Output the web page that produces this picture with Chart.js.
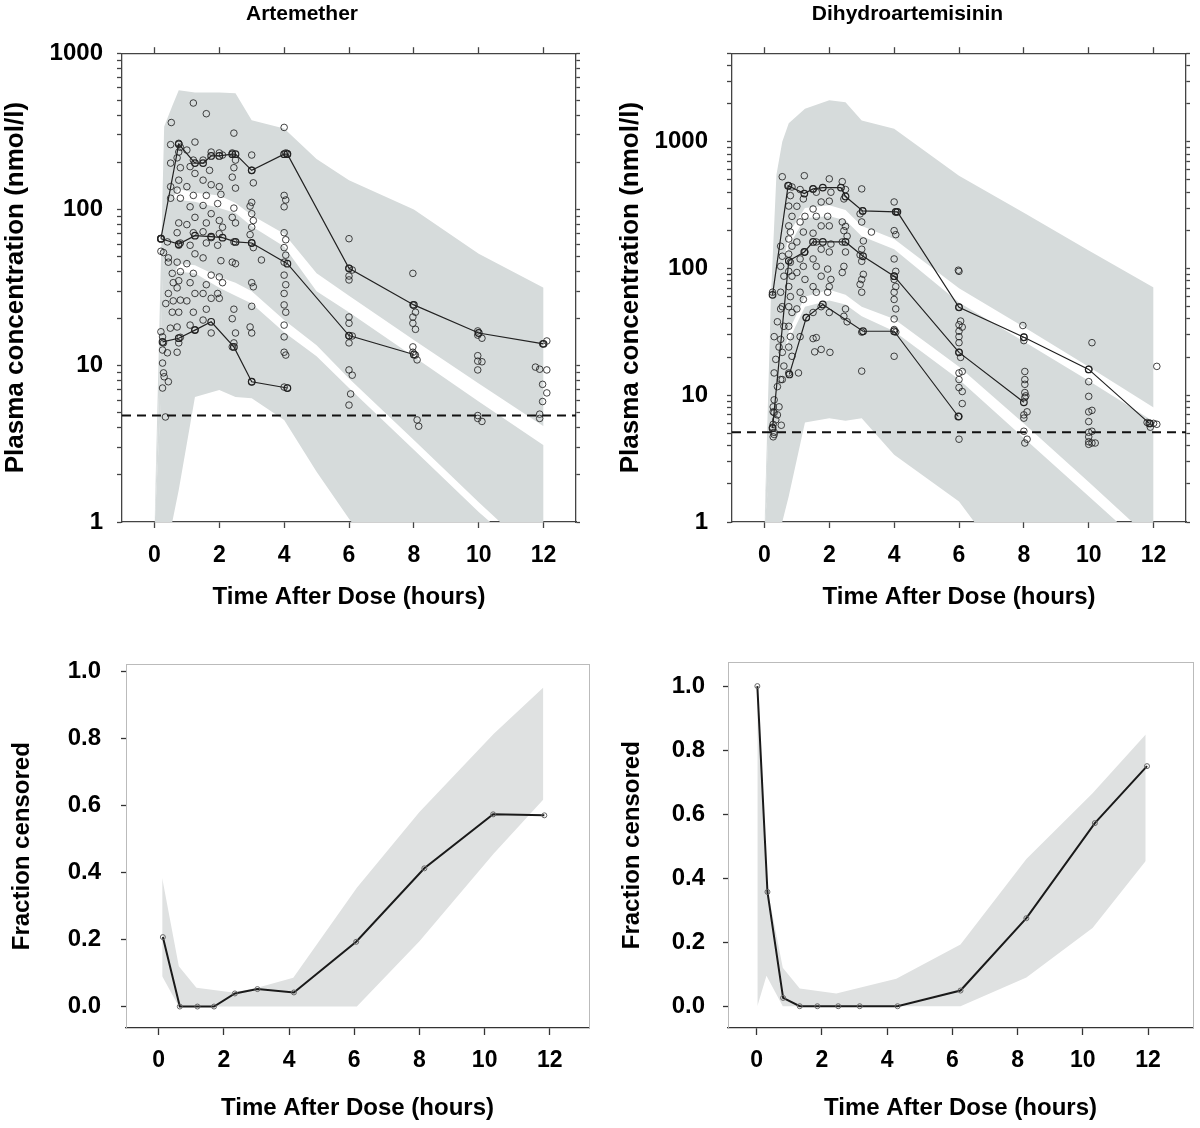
<!DOCTYPE html>
<html>
<head>
<meta charset="utf-8">
<script src="https://cdn.jsdelivr.net/npm/chart.js@4.4.1/dist/chart.umd.min.js"></script>
<style>
  body { margin: 0; background: #fff; width: 1200px; height: 1128px; position: relative; overflow: hidden; }
  canvas { position: absolute; }
</style>
</head>
<body>
<canvas id="artConc" width="604" height="630" style="left:0px;top:0px"></canvas>
<canvas id="dhaConc" width="585" height="630" style="left:615px;top:0px"></canvas>
<canvas id="artCens" width="600" height="498" style="left:0px;top:630px"></canvas>
<canvas id="dhaCens" width="585" height="498" style="left:615px;top:630px"></canvas>
<script>
// ---- tick labels ----
var timeTicks = [0, 2, 4, 6, 8, 10, 12];
var logTickLabels = [1, 10, 100, 1000];
var fracTicks = [0, 0.2, 0.4, 0.6, 0.8, 1.0];

// ---- Artemether: observed concentrations [time, nmol/l] ----
var tlObs = [
  [0.52,360],[0.5,260],[0.5,198],[0.5,140],[0.5,118],[0.21,65],[0.28,53],[0.43,49],[0.43,46],[0.55,39],
  [0.58,34],[0.43,29],[0.58,26],[0.55,22],[0.49,17.4],[0.25,15.3],[0.28,14],[0.4,12.1],[0.25,10.4],[0.28,9],
  [0.43,7.9],[0.25,7.2],[0.34,4.7],[0.2,54],[0.2,16.5],[0.25,12.6],[0.3,8.5],[0.35,25],[0.4,62],
  [0.75,265],[0.8,250],[0.75,233],[0.7,214],[0.8,185],[0.75,154],[0.7,133],[0.8,118],[0.75,82],[0.7,71],
  [0.8,61],[0.75,59],[0.7,46],[0.8,40],[0.75,35],[0.7,31.5],[0.8,26.3],[0.75,22],[0.7,17.7],[0.8,15.2],[0.75,14],[0.7,12.2],
  [1.2,480],[1.25,270],[1.0,240],[1.2,207],[1.1,188],[1.25,170],[1.0,140],[1.2,123],[1.1,104],[1.25,89],
  [1.0,80],[1.2,71],[1.1,59],[1.25,52],[1.0,45],[1.2,39],[1.1,34],[1.25,29],[1.0,26],[1.2,22],[1.1,18.2],[1.25,17],
  [1.6,410],[1.75,233],[1.5,207],[1.7,178],[1.5,154],[1.75,144],[1.6,123],[1.5,106],[1.75,94],[1.6,82],
  [1.5,72],[1.75,66],[1.6,61],[1.5,49],[1.75,38],[1.6,33],[1.5,29],[1.75,27],[1.6,23],[1.5,19.6],[1.75,16.2],
  [2.0,230],[2.1,223],[2.0,140],[2.05,125],[1.95,109],[2.0,85],[2.1,77],[2.0,70],[1.95,59],[2.05,47],
  [2.0,37],[2.1,34],[1.95,29],[2.0,27],
  [2.45,308],[2.4,230],[2.5,207],[2.45,185],[2.4,161],[2.5,137],[2.45,102],[2.4,89],[2.5,82],[2.45,62],
  [2.4,46],[2.5,45],[2.45,23],[2.4,20],[2.5,16.2],[2.45,14],[2.4,13.2],
  [3.0,223],[3.0,178],[3.05,148],[3.0,111],[2.95,105],[3.0,94],[3.05,85],[3.0,77],[2.95,69],[3.0,61],
  [3.05,57],[3.0,34],[3.05,32],[3.0,24],[2.95,17.7],[3.0,16.2],[3.0,7.9],[3.3,47.5],
  [4.0,335],[4.05,230],[4.1,228],[4.0,123],[4.05,115],[4.0,104],[4.0,71],[4.05,64],[4.0,57],[4.05,51],
  [4.0,46],[4.0,38],[4.05,33],[4.0,29],[4.0,24.5],[4.05,22],[4.0,18.2],[4.0,15.3],[4.0,12.2],[4.05,11.7],[4.0,7.3],[4.1,7.2],
  [6.0,65],[6.0,42],[6.1,41],[6.0,37.5],[6.0,35.4],[6.0,20.5],[6.0,18.7],[6.0,15.5],[6.1,15.5],[6.0,14],
  [6.0,9.4],[6.1,8.7],[6.05,6.6],[6.0,5.6],
  [7.97,39],[7.97,24.5],[8.05,22],[7.97,20.5],[7.97,18.7],[8.05,17.1],[7.97,13.2],[7.97,12.2],[8.05,11.7],[8.1,10.9],[8.1,4.5],[8.15,4.1],
  [9.97,16.7],[9.97,15.7],[10.1,15],[9.97,11.6],[9.97,10.7],[10.1,10.6],[9.97,9.4],[9.97,4.8],[9.97,4.6],[10.1,4.4],
  [11.97,13.8],[12.1,14.4],[11.75,9.8],[11.88,9.5],[12.1,9.4],[11.97,7.6],[12.1,6.7],[11.97,5.9],[11.88,4.9],[11.88,4.6]
];
// observed 95th / 50th / 5th percentiles
var tlP95Time = [0.2, 0.75, 1.25, 1.5, 1.75, 2.0, 2.4, 2.5, 3.0, 4.0, 4.1, 6.0, 8.0, 10.0, 12.0];
var tlP95Conc = [65, 262, 198, 198, 220, 220, 226, 226, 178, 226, 226, 42, 24.5, 16.2, 13.8];
var tlP50Time = [0.2, 0.75, 1.25, 1.75, 2.1, 2.5, 3.0, 4.1, 6.0, 8.0];
var tlP50Conc = [65, 60, 68, 67, 66, 62, 61, 45, 15.6, 11.8];
var tlP05Time = [0.25, 0.75, 1.25, 1.75, 2.45, 3.0, 4.1];
var tlP05Conc = [14.2, 15, 16.9, 19.1, 13.2, 7.9, 7.2];
// simulated confidence bands
var tlBandTime = [0, 0.3, 0.55, 0.75, 1.25, 2, 2.5, 3, 4, 5, 6, 8, 10, 12];
var tlHiTop  = [0.9, 340, 460, 580, 560, 560, 555, 373, 330, 210, 154, 100, 52, 31.5];
var tlHiBot  = [0.9, 60, 118, 135, 128, 123, 110, 92, 70, 39, 28, 14.6, 7.7, 4.1];
var tlMidTop = [0.9, 65, 120, 115, 112, 102, 95, 78, 58, 30, 22, 11.4, 5.9, 3.1];
var tlMidBot = [0.9, 14, 36, 45, 44, 37, 34, 30, 19.6, 13.5, 8.3, 3.35, 1.34, 0.55];
var tlLoTop  = [0.9, 16, 38, 40, 39, 31.5, 28, 25, 16.4, 11.5, 7.2, 2.9, 1.16, 0.5];
var tlLoBot  = [0.3, 0.6, 1.0, 1.6, 6.3, 7.0, 6.3, 6.2, 4.5, 2.1, 1.05, 0.3, 0.1, 0.04];
var tlLloq = 4.8;

// ---- Dihydroartemisinin: observed concentrations ----
var trObs = [
  [0.55,530],[0.25,65],[0.5,48],[0.4,38],[0.3,29],[0.45,24],[0.35,19.2],[0.3,15],[0.5,13.3],[0.4,11.7],
  [0.3,9.2],[0.45,8.1],[0.3,7.3],[0.35,6.4],[0.25,5.6],[0.3,5.1],[0.27,4.7],[0.27,8.1],[0.27,7.4],[0.4,7.0],
  [0.27,5.9],[0.52,5.8],[0.3,4.9],
  [0.5,150],[0.55,125],[0.5,104],[0.6,87],[0.5,65],[0.55,50],[0.6,35],[0.5,27.6],[0.55,21.8],[0.6,17],[0.55,13.3],
  [0.75,450],[0.85,440],[0.8,376],[0.75,311],[0.85,258],[0.75,217],[0.8,194],[0.75,171],[0.85,150],[0.75,130],
  [0.8,112],[0.75,95],[0.85,87],[0.75,72],[0.8,60],[0.75,50],[0.85,45],[0.75,35],[0.8,29],[0.75,24],[0.85,20.3],[0.75,15],
  [1.23,540],[1.1,420],[1.2,354],[1.0,310],[1.25,258],[1.1,233],[1.2,194],[1.0,162],[1.25,135],[1.1,119],
  [1.2,104],[1.0,93],[1.25,82],[1.1,65],[1.2,57],[1.0,48],[1.29,41],[1.1,29],[1.05,15],
  [1.5,425],[1.6,400],[1.75,335],[1.5,295],[1.6,258],[1.75,217],[1.5,190],[1.6,162],[1.75,142],[1.5,119],
  [1.6,104],[1.75,87],[1.5,72],[1.6,65],[1.75,50],[1.5,45],[1.6,28.5],[1.55,22],[1.5,28],
  [2.0,510],[2.05,400],[2.0,340],[1.95,258],[2.0,217],[2.05,156],[2.0,135],[1.95,99],[2.05,82],[2.0,72],
  [1.95,65],[2.0,45],[1.75,23],[2.02,21.8],
  [2.4,485],[2.5,420],[2.45,354],[2.4,233],[2.5,215],[2.45,199],[2.55,180],[2.4,162],[2.5,135],[2.45,104],
  [2.4,93],[2.5,48],[2.45,42],[2.55,38],
  [3.0,425],[3.03,285],[2.95,270],[3.0,233],[3.05,165],[3.0,142],[2.95,128],[3.0,114],[3.05,90],[3.0,82],
  [2.95,75],[3.0,65],[3.0,31.5],[3.0,15.5],[3.3,194],
  [4.0,335],[4.05,280],[4.0,199],[4.05,185],[4.0,119],[4.05,95],[4.0,87],[4.0,82],[4.05,72],[4.0,65],
  [4.0,57],[4.05,48],[4.0,40],[4.0,33],[4.05,31.5],[4.0,20.3],
  [5.98,97],[6.0,95],[6.0,49.5],[6.05,38.5],[6.0,36],[6.1,34.5],[6.0,32],[6.0,29],[6.0,26],[6.0,21.8],
  [6.05,19.9],[6.1,15.4],[6.0,15],[6.0,13.3],[6.0,11.5],[6.1,10.7],[6.1,8.6],[6.0,6.8],[6.0,4.5],
  [7.97,35.5],[8.0,28.7],[8.0,27],[8.03,15.4],[8.03,13.3],[8.03,12.2],[8.03,10.5],[8.06,9.9],[8.03,9.6],[8.1,7.4],
  [8.0,7.0],[8.0,6.6],[8.0,5.2],[8.1,4.5],[8.03,4.2],
  [10.1,26],[10.0,16],[10.0,12.8],[10.0,9.8],[10.0,7.4],[10.1,7.6],[10.0,6.2],[10.0,5.1],[10.1,5.2],[10.0,4.7],
  [10.0,4.3],[10.1,4.2],[10.2,4.2],[10.0,4.1],
  [12.1,16.9],[11.8,6.1],[11.9,5.6],[12.0,6.0],[12.1,5.9],[11.9,6.0]
];
var trP95Time = [0.25, 0.73, 1.23, 1.5, 1.8, 2.36, 2.5, 3.03, 4.05, 4.1, 6.0, 8.0, 10.0, 11.87];
var trP95Conc = [62, 450, 390, 425, 435, 435, 370, 285, 280, 280, 49.5, 28.7, 16, 6.0];
var trP50Time = [0.25, 0.75, 1.23, 1.5, 1.8, 2.5, 3.04, 4.0, 6.0, 8.0];
var trP50Conc = [5.5, 115, 135, 162, 162, 162, 125, 87, 21.8, 8.8];
var trP05Time = [0.77, 1.29, 1.8, 3.04, 4.0, 5.98];
var trP05Conc = [14.6, 41, 52, 32, 32, 6.8];
var trBandTime = [0, 0.2, 0.37, 0.55, 0.75, 1.25, 2, 2.5, 3, 4, 6, 8, 10, 12];
var trHiTop  = [0.9, 60, 550, 1000, 1400, 1820, 2130, 2050, 1470, 1270, 540, 275, 139, 71];
var trHiBot  = [0.9, 15, 50, 95, 190, 300, 315, 290, 217, 171, 70, 34.5, 16.8, 8];
var trMidTop = [0.9, 17, 55, 97, 150, 250, 258, 240, 180, 142, 54, 26.6, 13, 6.2];
var trMidBot = [0.9, 3, 8, 18, 32, 60, 68, 62, 50, 40, 16.8, 6, 2.07, 0.7];
var trLoTop  = [0.9, 3.5, 9, 19, 27, 50, 56, 52, 42, 32, 13.3, 4.6, 1.6, 0.55];
var trLoBot  = [0.3, 0.5, 0.7, 1.0, 1.6, 6.1, 6.6, 6.3, 6.6, 3.4, 1.45, 0.3, 0.1, 0.04];
var trLloq = 5.1;

// ---- fraction censored ----
var blTime = [0.13, 0.65, 1.19, 1.7, 2.34, 3.03, 4.15, 6.06, 8.15, 10.26, 11.83];
var blFrac = [0.207, 0, 0, 0, 0.039, 0.052, 0.042, 0.193, 0.412, 0.573, 0.570];
var blBandTime = [0.11, 0.62, 1.16, 2.28, 3.0, 4.13, 6.08, 8.0, 10.28, 11.8];
var blBandHi = [0.383, 0.12, 0.056, 0.042, 0.055, 0.086, 0.354, 0.58, 0.813, 0.951];
var blBandLo = [0.09, 0, 0, 0, 0, 0, 0, 0.195, 0.456, 0.617];

var brTime = [0.02, 0.33, 0.81, 1.32, 1.86, 2.5, 3.16, 4.32, 6.25, 8.27, 10.37, 11.97];
var brFrac = [1.0, 0.357, 0.026, 0, 0, 0, 0, 0, 0.049, 0.275, 0.572, 0.75];
var brBandTime = [0.02, 0.3, 0.8, 1.32, 2.44, 4.28, 6.25, 8.27, 10.3, 11.93];
var brBandHi = [1.0, 0.38, 0.12, 0.055, 0.04, 0.086, 0.193, 0.46, 0.665, 0.849];
var brBandLo = [0.0, 0.095, 0, 0, 0, 0, 0, 0.09, 0.244, 0.454];

var FONT = '"Liberation Sans", Arial, sans-serif';
var GREY = '#d6dbdb';
var GREY_LIGHT = '#dfe1e1';
var AXIS = '#444';

function pts(xs, ys) { return xs.map(function (x, i) { return { x: x, y: ys[i] }; }); }
function pairs(list) { return list.map(function (p) { return { x: p[0], y: p[1] }; }); }
function fixSize(prop, n) { return function (scale) { scale[prop] = n; }; }
function setTicks(values) { return function (scale) { scale.ticks = values.map(function (v) { return { value: v }; }); }; }

function logTicks(max) {
  var out = [];
  for (var k = 0; k < 4; k++) {
    for (var m = 1; m < 10; m++) {
      var v = m * Math.pow(10, k);
      if (v <= max) out.push(v);
    }
  }
  return out;
}

function band(xs, top, bottom, colour) {
  return [
    { data: pts(xs, top), borderColor: 'rgba(0,0,0,0)', borderWidth: 1, pointRadius: 0, fill: false, order: 10 },
    { data: pts(xs, bottom), borderColor: 'rgba(0,0,0,0)', borderWidth: 1, pointRadius: 0, fill: '-1', backgroundColor: colour, order: 10 }
  ];
}

function pctLine(xs, ys) {
  return { data: pts(xs, ys), borderColor: '#222', borderWidth: 1.2, pointRadius: 3.3, pointBorderWidth: 1.2,
           pointBorderColor: '#222', pointBackgroundColor: 'rgba(0,0,0,0)', order: 1 };
}

function concChart(id, p) {
  var datasets = [].concat(
    band(p.bandTime, p.hiTop, p.hiBot, GREY),
    band(p.bandTime, p.midTop, p.midBot, GREY),
    band(p.bandTime, p.loTop, p.loBot, GREY),
    [{ data: [{ x: -1, y: p.lloq }, { x: 13, y: p.lloq }], borderColor: '#111', borderWidth: 2,
       borderDash: [9, 6], pointRadius: 0, order: 5 },
     { data: pairs(p.obs), showLine: false, pointRadius: 3.3, pointBorderWidth: 1,
       pointBorderColor: 'rgba(35,35,35,0.85)', pointBackgroundColor: 'rgba(0,0,0,0)', order: 2 }],
    p.lines.map(function (l) { return pctLine(l[0], l[1]); })
  );
  var ticksY = logTicks(p.yMax);
  new Chart(document.getElementById(id), {
    type: 'line',
    data: { datasets: datasets },
    options: {
      responsive: false, animation: false,
      layout: { padding: 0 },
      plugins: {
        legend: { display: false }, tooltip: { enabled: false },
        title: { display: true, text: p.title, color: '#000', padding: { top: 2, bottom: 0 },
                 font: { family: FONT, size: 21, weight: 'bold' } }
      },
      scales: {
        x: {
          type: 'linear', min: -1, max: 13, afterBuildTicks: setTicks(timeTicks), afterFit: fixSize('height', 108),
          grid: { drawOnChartArea: false, tickLength: 6, tickColor: AXIS, tickWidth: 1.3 },
          border: { color: AXIS, width: 1.3 },
          ticks: { autoSkip: false, maxRotation: 0, padding: 14, color: '#000', font: { family: FONT, size: 23, weight: 'bold' } },
          title: { display: true, text: 'Time After Dose (hours)', color: '#000', padding: { top: 0, bottom: 18.6 },
                   font: { family: FONT, size: 24, weight: 'bold' } }
        },
        y: {
          type: 'logarithmic', min: 1, max: p.yMax, afterBuildTicks: setTicks(ticksY), afterFit: fixSize('width', p.left),
          grid: { drawOnChartArea: false, tickLength: 5, tickColor: AXIS, tickWidth: 1.3 },
          border: { color: AXIS, width: 1.3 },
          ticks: { autoSkip: false, padding: p.labelPad, color: '#000', font: { family: FONT, size: 24, weight: 'bold' },
                   callback: function (v) { return logTickLabels.indexOf(v) >= 0 ? String(v) : ''; } },
          title: { display: true, text: 'Plasma concentration (nmol/l)', color: '#000', padding: { top: p.yTitlePad, bottom: 0 },
                   font: { family: FONT, size: 26, weight: 'bold' }, }
        },
        x2: {
          type: 'linear', position: 'top', min: -1, max: 13, afterBuildTicks: setTicks(timeTicks), afterFit: fixSize('height', 26),
          grid: { drawOnChartArea: false, tickLength: 6, tickColor: AXIS, tickWidth: 1.3 },
          border: { color: AXIS, width: 1.3 },
          ticks: { display: false }
        },
        y2: {
          type: 'logarithmic', position: 'right', min: 1, max: p.yMax, afterBuildTicks: setTicks(ticksY), afterFit: fixSize('width', p.right),
          grid: { drawOnChartArea: false, tickLength: 4, tickColor: AXIS, tickWidth: 1.3 },
          border: { color: AXIS, width: 1.3 },
          ticks: { display: false }
        }
      }
    }
  });
}

function censChart(id, p) {
  var datasets = [].concat(
    band(p.bandTime, p.bandHi, p.bandLo, GREY_LIGHT),
    [{ data: pts(p.time, p.frac), borderColor: '#1a1a1a', borderWidth: 2, pointRadius: 2.5, pointBorderWidth: 1,
       pointBorderColor: '#666', pointBackgroundColor: 'rgba(0,0,0,0)', order: 1 }]
  );
  new Chart(document.getElementById(id), {
    type: 'line',
    data: { datasets: datasets },
    options: {
      responsive: false, animation: false,
      layout: { padding: 0 },
      plugins: { legend: { display: false }, tooltip: { enabled: false } },
      scales: {
        x: {
          type: 'linear', min: p.xMin, max: p.xMax, afterBuildTicks: setTicks(timeTicks), afterFit: fixSize('height', 100),
          grid: { drawOnChartArea: false, tickLength: 7, tickColor: '#333', tickWidth: 1.3 },
          border: { color: '#333', width: 1.3 },
          ticks: { autoSkip: false, maxRotation: 0, padding: 12, color: '#000', font: { family: FONT, size: 23, weight: 'bold' } },
          title: { display: true, text: 'Time After Dose (hours)', color: '#000', padding: { top: 0, bottom: 5.6 },
                   font: { family: FONT, size: 24, weight: 'bold' } }
        },
        y: {
          type: 'linear', min: p.yMin, max: p.yMax, afterBuildTicks: setTicks(fracTicks), afterFit: fixSize('width', p.left),
          grid: { drawOnChartArea: false, tickLength: 5, tickColor: '#333', tickWidth: 1.3 },
          border: { color: '#bbb', width: 1 },
          ticks: { autoSkip: false, padding: p.labelPad, color: '#000', font: { family: FONT, size: 24, weight: 'bold' },
                   callback: function (v) { return v.toFixed(1); } },
          title: { display: true, text: 'Fraction censored', color: '#000', padding: { top: p.yTitlePad, bottom: 0 },
                   font: { family: FONT, size: 24, weight: 'bold' } }
        },
        x2: {
          type: 'linear', position: 'top', min: p.xMin, max: p.xMax, afterFit: fixSize('height', 27),
          grid: { display: false }, border: { color: '#bbb', width: 1 }, ticks: { display: false }
        },
        y2: {
          type: 'linear', position: 'right', min: p.yMin, max: p.yMax, afterFit: fixSize('width', p.right),
          grid: { display: false }, border: { color: '#bbb', width: 1 }, ticks: { display: false }
        }
      }
    }
  });
}

concChart('artConc', {
  title: 'Artemether', obs: tlObs, lloq: tlLloq, yMax: 1000, left: 122, right: 28, labelPad: 14, yTitlePad: 0,
  bandTime: tlBandTime, hiTop: tlHiTop, hiBot: tlHiBot, midTop: tlMidTop, midBot: tlMidBot, loTop: tlLoTop, loBot: tlLoBot,
  lines: [[tlP95Time, tlP95Conc], [tlP50Time, tlP50Conc], [tlP05Time, tlP05Conc]]
});
concChart('dhaConc', {
  title: 'Dihydroartemisinin', obs: trObs, lloq: trLloq, yMax: 5000, left: 117, right: 14, labelPad: 19, yTitlePad: 0,
  bandTime: trBandTime, hiTop: trHiTop, hiBot: trHiBot, midTop: trMidTop, midBot: trMidBot, loTop: trLoTop, loBot: trLoBot,
  lines: [[trP95Time, trP95Conc], [trP50Time, trP50Conc], [trP05Time, trP05Conc]]
});
censChart('artCens', {
  time: blTime, frac: blFrac, bandTime: blBandTime, bandHi: blBandHi, bandLo: blBandLo,
  xMin: -1, xMax: 13.2, yMin: -0.064, yMax: 1.02, left: 126, right: 11, labelPad: 20, yTitlePad: 8
});
censChart('dhaCens', {
  time: brTime, frac: brFrac, bandTime: brBandTime, bandHi: brBandHi, bandLo: brBandLo,
  xMin: -0.88, xMax: 13.38, yMin: -0.068, yMax: 1.074, left: 113, right: 7, labelPad: 18, yTitlePad: 3
});
</script>
</body>
</html>
